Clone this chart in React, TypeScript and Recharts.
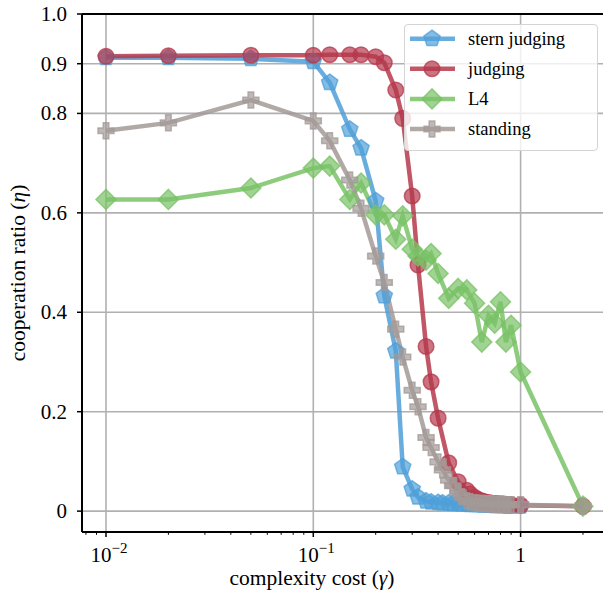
import React from 'react';
import { LineChart, Line, XAxis, YAxis, CartesianGrid, ReferenceLine, Legend, Label } from 'recharts';

const gamma = [0.01, 0.02, 0.05, 0.1, 0.12, 0.15, 0.17, 0.2, 0.22, 0.25, 0.27, 0.3, 0.32, 0.35, 0.37, 0.4, 0.42, 0.45, 0.47, 0.5, 0.52, 0.55, 0.57, 0.6, 0.62, 0.65, 0.67, 0.7, 0.72, 0.75, 0.77, 0.8, 0.82, 0.85, 0.87, 0.9, 1.0, 2.0];

const sternJudging = [0.912, 0.912, 0.91, 0.904, 0.862, 0.768, 0.73, 0.624, 0.433, 0.322, 0.089, 0.044, 0.028, 0.02, 0.018, 0.017, 0.016, 0.016, 0.015, 0.015, 0.014, 0.014, 0.013, 0.013, 0.013, 0.012, 0.012, 0.012, 0.012, 0.011, 0.011, 0.011, 0.011, 0.011, 0.01, 0.01, 0.01, null];

const judging = [0.915, 0.916, 0.917, 0.917, 0.918, 0.918, 0.918, 0.914, 0.902, 0.847, 0.79, 0.634, 0.495, 0.331, 0.26, 0.187, null, 0.097, null, 0.059, null, 0.042, 0.035, 0.028, 0.024, 0.021, 0.019, 0.017, 0.016, 0.015, 0.015, 0.014, 0.014, 0.013, 0.013, 0.013, 0.012, 0.01];

const l4 = [0.627, 0.627, 0.65, 0.69, 0.694, 0.627, 0.66, 0.596, 0.596, 0.547, 0.594, 0.527, 0.513, 0.505, 0.518, 0.478, null, 0.428, null, 0.448, null, 0.445, null, 0.418, null, 0.34, null, 0.394, null, 0.378, null, 0.421, null, 0.34, null, 0.374, 0.28, 0.01];

const standing = [0.765, 0.781, 0.827, 0.785, 0.745, 0.666, 0.609, 0.513, 0.46, 0.366, 0.31, 0.243, 0.21, 0.148, 0.128, 0.099, 0.083, 0.062, 0.051, 0.037, 0.029, 0.021, 0.019, 0.017, 0.016, 0.016, 0.015, 0.015, 0.015, 0.014, 0.014, 0.014, 0.014, 0.013, 0.013, 0.013, 0.013, 0.01];

const xMajorTicks = [0.01, 0.1, 1];
const xMinorTicks = [0.008, 0.009, 0.02, 0.03, 0.04, 0.05, 0.06, 0.07, 0.08, 0.09, 0.2, 0.3, 0.4, 0.5, 0.6, 0.7, 0.8, 0.9, 2];
const xTickLabels: Record<string, [string, string]> = { '0.01': ['10', '−2'], '0.1': ['10', '−1'], '1': ['1', ''] };
const yTicks = [0, 0.2, 0.4, 0.6, 0.8, 0.9, 1.0];

const FONT = '"Liberation Serif", "Times New Roman", serif';

const toPoints = (vals: (number | null)[]) =>
  gamma.map((g, i) => ({ x: g, y: vals[i] })).filter((p) => p.y !== null);

type MarkerProps = { cx: number; cy: number; color: string };

const Pentagon = ({ cx, cy, color }: MarkerProps) => {
  const r = 8.5;
  const pts = [0, 1, 2, 3, 4]
    .map((k) => {
      const a = -Math.PI / 2 + (k * 2 * Math.PI) / 5;
      return `${cx + r * Math.cos(a)},${cy + r * Math.sin(a)}`;
    })
    .join(' ');
  return <polygon points={pts} fill={color} fillOpacity={0.7} stroke={color} strokeOpacity={0.75} strokeWidth={1.5} />;
};

const Circ = ({ cx, cy, color }: MarkerProps) => (
  <circle cx={cx} cy={cy} r={7.8} fill={color} fillOpacity={0.7} stroke={color} strokeOpacity={0.75} strokeWidth={1.5} />
);

const Diamond = ({ cx, cy, color }: MarkerProps) => {
  const r = 10;
  const pts = `${cx},${cy - r} ${cx + r},${cy} ${cx},${cy + r} ${cx - r},${cy}`;
  return <polygon points={pts} fill={color} fillOpacity={0.7} stroke={color} strokeOpacity={0.75} strokeWidth={1.5} />;
};

const Plus = ({ cx, cy, color }: MarkerProps) => {
  const w = 8;
  const t = 2.8;
  const pts = [
    [-t, -w], [t, -w], [t, -t], [w, -t], [w, t], [t, t], [t, w], [-t, w], [-t, t], [-w, t], [-w, -t], [-t, -t],
  ]
    .map(([dx, dy]) => `${cx + dx},${cy + dy}`)
    .join(' ');
  return <polygon points={pts} fill={color} fillOpacity={0.7} stroke={color} strokeOpacity={0.75} strokeWidth={1.5} />;
};

const series = [
  { name: 'stern judging', values: sternJudging, color: '#4f9fd8', Marker: Pentagon },
  { name: 'judging', values: judging, color: '#b5384b', Marker: Circ },
  { name: 'L4', values: l4, color: '#79c266', Marker: Diamond },
  { name: 'standing', values: standing, color: '#a39a97', Marker: Plus },
];

const XTick = (props: any) => {
  const { x, y, payload } = props;
  const v = payload.value;
  const major = xMajorTicks.includes(v);
  const lab = xTickLabels[String(v)];
  return (
    <g>
      <line x1={x} x2={x} y1={y} y2={y + (major ? 5 : 2.8)} stroke="#000" strokeWidth={major ? 1.5 : 1} />
      {major && lab && (
        <text x={x + (lab[1] ? 3 : 0)} y={y + 30} textAnchor="middle" style={{ fontFamily: FONT, fontSize: 21 }} fill="#000">
          {lab[0]}
          {lab[1] && (
            <tspan dy={-9} style={{ fontSize: 15 }}>
              {lab[1]}
            </tspan>
          )}
        </text>
      )}
    </g>
  );
};

const YTick = (props: any) => {
  const { x, y, payload } = props;
  const v = payload.value as number;
  return (
    <text x={x} y={y + 7} textAnchor="end" style={{ fontFamily: FONT, fontSize: 21 }} fill="#000">
      {v === 0 ? '0' : v.toFixed(1)}
    </text>
  );
};

const LegendBox = () => (
  <div
    style={{
      position: 'relative',
      width: 194,
      height: 127,
      background: 'rgba(255,255,255,0.8)',
      border: '1px solid #d4d4d4',
      borderRadius: 4,
      boxSizing: 'border-box',
    }}
  >
    <svg width={194} height={127} style={{ position: 'absolute', left: -1, top: -1 }}>
      {series.map((s, i) => {
        const cy = 14.7 + i * 30.1;
        const M = s.Marker;
        return (
          <g key={s.name}>
            <line x1={6} x2={51} y1={cy} y2={cy} stroke={s.color} strokeOpacity={0.85} strokeWidth={4.5} />
            <M cx={28} cy={cy} color={s.color} />
            <text x={64} y={cy + 6} style={{ fontFamily: FONT, fontSize: 18.5 }} fill="#000">
              {s.name}
            </text>
          </g>
        );
      })}
    </svg>
  </div>
);

export default function App() {
  return (
    <div style={{ position: 'absolute', left: 0, top: 0, width: 603, height: 594, overflow: 'hidden', background: '#fff' }}>
      <LineChart width={610} height={594} margin={{ top: 14, right: 0, bottom: 0, left: 0 }}>
        <CartesianGrid vertical={true} verticalValues={xMajorTicks} stroke="#b0b0b0" strokeWidth={1.6} />
        <XAxis
          dataKey="x"
          type="number"
          scale="log"
          domain={[0.00766, 2.7]}
          allowDataOverflow
          ticks={[...xMajorTicks, ...xMinorTicks].sort((a, b) => a - b)}
          interval={0}
          height={62}
          tickSize={0}
          tickMargin={0}
          tickLine={false}
          axisLine={{ stroke: '#000', strokeWidth: 2 }}
          tick={<XTick />}
        >
          <Label
            content={() => (
              <text x={312} y={585} textAnchor="middle" style={{ fontFamily: FONT, fontSize: 21.5 }} fill="#000">
                complexity cost (<tspan fontStyle="italic">γ</tspan>)
              </text>
            )}
          />
        </XAxis>
        <YAxis
          type="number"
          domain={[-0.042, 1.0]}
          allowDataOverflow
          ticks={yTicks}
          interval={0}
          width={82}
          tickSize={5}
          tickMargin={10}
          tickLine={{ stroke: '#000', strokeWidth: 1.5 }}
          axisLine={{ stroke: '#000', strokeWidth: 2 }}
          tick={<YTick />}
        >
          <Label
            content={() => (
              <text
                x={25}
                y={273}
                transform="rotate(-90 25 273)"
                textAnchor="middle"
                style={{ fontFamily: FONT, fontSize: 21.5 }}
                fill="#000"
              >
                cooperation ratio (<tspan fontStyle="italic">η</tspan>)
              </text>
            )}
          />
        </YAxis>
        <ReferenceLine y={1} stroke="#000" strokeWidth={2} />
        {series.map((s) => {
          const M = s.Marker;
          return (
            <Line
              key={s.name}
              data={toPoints(s.values)}
              dataKey="y"
              name={s.name}
              type="linear"
              stroke={s.color}
              strokeOpacity={0.85}
              strokeWidth={4.5}
              isAnimationActive={false}
              dot={(p: any) => <M key={`${s.name}-${p.index}`} cx={p.cx} cy={p.cy} color={s.color} />}
              activeDot={false}
            />
          );
        })}
        <Legend
          layout="vertical"
          align="center"
          verticalAlign="middle"
          content={() => <LegendBox />}
          wrapperStyle={{ position: 'absolute', left: 404, top: 24, width: 194, height: 127 }}
        />
      </LineChart>
    </div>
  );
}
